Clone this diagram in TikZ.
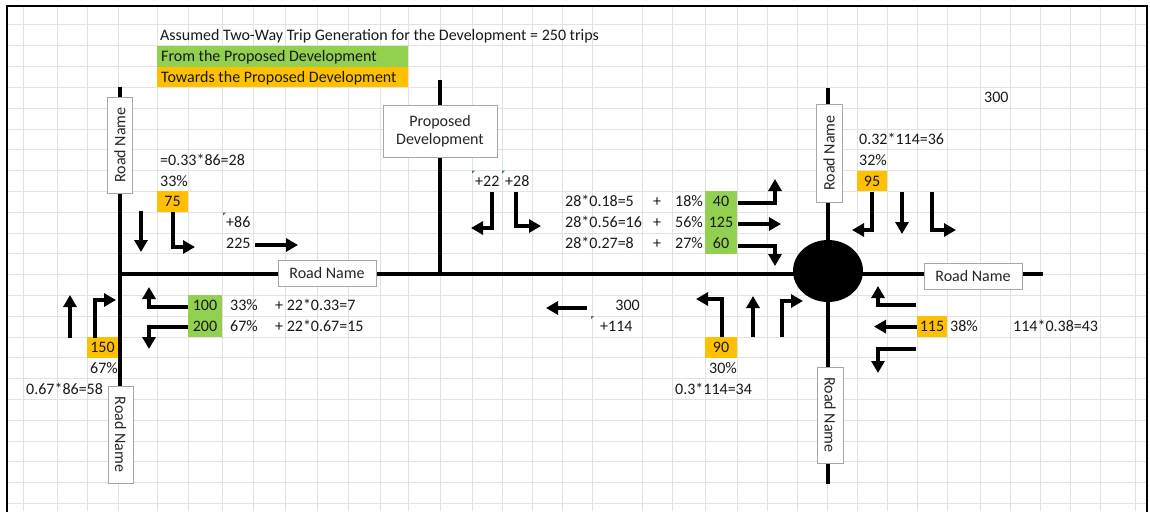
\documentclass[tikz,border=0pt]{standalone}
\usepackage{fontspec}
\setmainfont{Carlito}
\usetikzlibrary{arrows.meta}

\definecolor{xgreen}{HTML}{92D050}
\definecolor{xorange}{HTML}{FFC000}
\definecolor{gridgray}{HTML}{E2E2E2}
\definecolor{boxgray}{HTML}{A6A6A6}
\definecolor{markgreen}{HTML}{2E8B2E}

\tikzset{
  every node/.style={font=\fontsize{16}{18.5}\selectfont,text=black!90},
  txt/.style={anchor=west,inner sep=0pt,text height=10pt,text depth=0pt},
  ctxt/.style={inner sep=0pt,text height=10pt,text depth=0pt},
  ocell/.style={fill=xorange,inner sep=0pt,minimum height=20.8pt,text height=10pt,text depth=0pt},
  road/.style={line width=4pt},
  roadbox/.style={draw=boxgray,fill=white,line width=1pt,inner sep=2pt,text=black!85},
  arr/.style={line width=4pt,-{Triangle[width=13pt,length=12pt]}},
  gridline/.style={draw=gridgray,line width=1pt},
  cellmark/.style={fill=markgreen}
}

\begin{document}
\begin{tikzpicture}[x=1pt,y=-1pt]
  \useasboundingbox (0,0) rectangle (1150,511);
  \fill[white] (0,0) rectangle (1150,511);

  % Grid
  \foreach \x in {23,57,87,118,157,188,222,253,285,317,348,380,408,440,472,502,532,562,592,642,672,705,737,767,797,827,857,887,917,947,980,1010,1040,1070,1100,1135}
    \draw[gridline] (\x,6) -- (\x,511);
  \foreach \k in {1,...,24}
    \draw[gridline] (7,{4.2+20.8*\k}) -- (1147,{4.2+20.8*\k});
  \draw[line width=2pt] (7,515) -- (7,6) -- (1147,6) -- (1147,515);

  % Legend
  \node[txt] (title) at (160,35.4) {Assumed Two-Way Trip Generation for the Development = 250 trips};
  \fill[xgreen] (157,45.8) rectangle (408,66.6);
  \fill[xorange] (157,66.6) rectangle (408,87.4);
  \node[txt] (legfrom) at (161,56.2) {From the Proposed Development};
  \node[txt] (legto) at (161,77) {Towards the Proposed Development};

  % Roads
  \coordinate (wtop) at (120,87);
  \coordinate (wbot) at (120,387);
  \coordinate (weast) at (120,274);
  \coordinate (etop) at (828,88);
  \coordinate (ebot) at (828,484);
  \coordinate (eend) at (1043,274);
  \coordinate (devtop) at (440,80);
  \coordinate (devfoot) at (440,274);
  \draw[road] (wtop) -- (wbot);
  \draw[road] (weast) -- (eend);
  \draw[road] (etop) -- (ebot);
  \draw[road] (devtop) -- (devfoot);
  \fill (828,271) ellipse (35pt and 31pt);

  % Road name boxes
  \node[roadbox,rotate=90,minimum width=96pt,minimum height=25pt] (rdnw) at (120,145) {Road Name};
  \node[roadbox,rotate=-90,minimum width=97pt,minimum height=25pt] (rdsw) at (120.5,434.5) {Road Name};
  \node[roadbox,minimum width=98pt,minimum height=26pt] (rdw) at (327,273) {Road Name};
  \node[roadbox,minimum width=98pt,minimum height=26pt] (rde) at (973,276) {Road Name};
  \node[roadbox,rotate=90,minimum width=98pt,minimum height=26pt] (rdne) at (829,153) {Road Name};
  \node[roadbox,rotate=-90,minimum width=96pt,minimum height=26pt] (rdse) at (830,415) {Road Name};
  \node[roadbox,minimum width=114pt,minimum height=52pt,align=center] (dev) at (440,131) {Proposed\\[-1pt]Development};

  % West junction
  \node[txt] (w1) at (160,160.2) {=0.33*86=28};
  \node[txt] (w2) at (160,181) {33\%};
  \node[ocell,minimum width=31pt] (c75) at (172.5,201.8) {75};
  \node[txt] (w3) at (226,222.6) {+86};
  \node[txt] (w4) at (226,243.4) {225};
  \fill[cellmark] (223,212.5) -- (226,212.5) -- (223,215.5) -- cycle;
  \node[ocell,minimum width=31pt] (c150) at (102.5,347.4) {150};
  \node[txt] (w5) at (90,368.2) {67\%};
  \node[txt] (w6) at (26,389) {0.67*86=58};
  \fill[xgreen] (188,295.4) rectangle (222,337);
  \node[ctxt] (c100) at (205,305.8) {100};
  \node[ctxt] (c200) at (205,326.6) {200};
  \node[txt] (w7) at (230,305.8) {33\%};
  \node[txt] (w8) at (230,326.6) {67\%};
  \node[txt] (w9) at (275,305.8) {+ 22*0.33=7};
  \node[txt] (w10) at (275,326.6) {+ 22*0.67=15};
  \draw[arr] (141,211) -- (141,252);
  \draw[arr] (c75.south) |- (195,247);
  \draw[arr] (255,245) -- (298,245);
  \draw[arr] (70,338) -- (70,295);
  \draw[arr] (95,338) |- (116,300);
  \draw[arr] (188,307) -| (149,287);
  \draw[arr] (188,327) -| (149,349);

  % Development access
  \node[txt] (d1) at (475,181) {+22};
  \node[txt] (d2) at (505,181) {+28};
  \fill[cellmark] (472,170.6) -- (475,170.6) -- (472,173.6) -- cycle;
  \fill[cellmark] (502,170.6) -- (505,170.6) -- (502,173.6) -- cycle;
  \draw[arr] (492,192) |- (471,228);
  \draw[arr] (516,192) |- (541,226);
  \fill[xgreen] (705,191.4) rectangle (737,253.8);
  \foreach \y/\calc/\pc/\val in {201.8/28*0.18=5/18/40, 222.6/28*0.56=16/56/125, 243.4/28*0.27=8/27/60}{
    \node[txt] at (565,\y) {\calc};
    \node[ctxt] at (657,\y) {+};
    \node[txt] at (675,\y) {\pc\%};
    \node[ctxt] at (721,\y) {\val};
  }
  \draw[arr] (738,203) -| (775,179);
  \draw[arr] (738,224) -- (781,224);
  \draw[arr] (738,246) -| (775,266);
  \draw[arr] (587,308) -- (546,308);
  \node[txt,anchor=east] (m1) at (640,305.8) {300};
  \node[txt] (m2) at (600,326.6) {+114};
  \fill[cellmark] (591,316.2) -- (594,316.2) -- (591,319.2) -- cycle;

  % Roundabout south arm
  \node[ocell,minimum width=32pt] (c90) at (721,347.4) {90};
  \node[txt] (s1) at (709,368.2) {30\%};
  \node[txt] (s2) at (675,389) {0.3*114=34};
  \draw[arr] (c90.north) ++(1,0) |- (696,299);
  \draw[arr] (753,337) -- (753,296);
  \draw[arr] (782,337) |- (803,301);

  % Roundabout north arm
  \node[txt] (n0) at (984,97.8) {300};
  \node[txt] (n1) at (859,139.4) {0.32*114=36};
  \node[txt] (n2) at (859,160.2) {32\%};
  \node[ocell,minimum width=30pt] (c95) at (872,181) {95};
  \draw[arr] (c95.south) |- (852,230);
  \draw[arr] (902,192) -- (902,234);
  \draw[arr] (932,192) |- (956,230);

  % Roundabout east arm
  \node[ocell,minimum width=30pt] (c115) at (932,326.6) {115};
  \node[txt] (e1) at (950,326.6) {38\%};
  \node[txt] (e2) at (1013,326.6) {114*0.38=43};
  \draw[arr] (916,305) -| (878,286);
  \draw[arr] (c115.west) -- (874,326.6);
  \draw[arr] (916,349) -| (878,373);
\end{tikzpicture}
\end{document}
